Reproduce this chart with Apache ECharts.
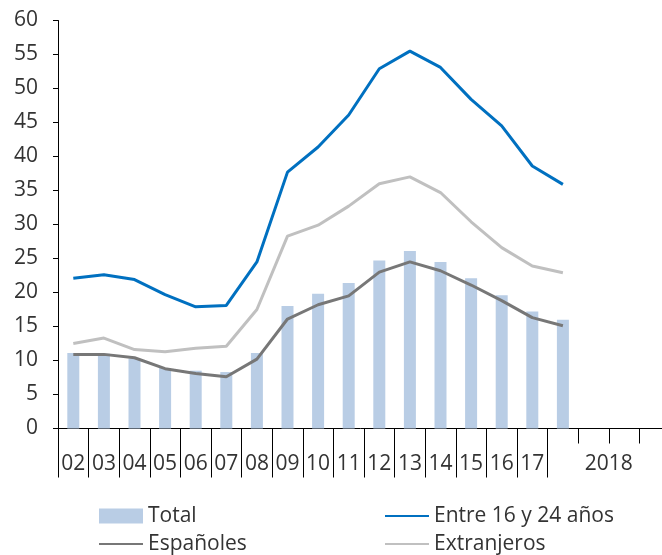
<!DOCTYPE html>
<html>
<head>
<meta charset="utf-8">
<script src="https://cdn.jsdelivr.net/npm/echarts@6/dist/echarts.min.js"></script>
<style>
html,body{margin:0;padding:0;background:#fff;}
#chart{width:662px;height:555px;}
</style>
</head>
<body>
<div id="chart"></div>
<script>
// ---- data ----
const categories = ['02','03','04','05','06','07','08','09','10','11','12','13','14','15','16','17','2018-I','2018-II','2018-III','2018-IV'];
const yearLabels = ['02','03','04','05','06','07','08','09','10','11','12','13','14','15','16','17'];
const groupLabels = ['2018'];
const total    = [11.1, 11.0, 10.3, 8.9, 8.5, 8.3, 11.1, 18.0, 19.8, 21.4, 24.7, 26.1, 24.5, 22.1, 19.6, 17.2, 16.0, null, null, null];
const young    = [22.1, 22.6, 21.9, 19.7, 17.9, 18.1, 24.5, 37.7, 41.4, 46.1, 52.9, 55.5, 53.1, 48.4, 44.5, 38.6, 35.9, null, null, null];
const spanish  = [10.9, 10.9, 10.4, 8.8, 8.1, 7.6, 10.2, 16.1, 18.2, 19.5, 23.0, 24.5, 23.2, 21.1, 18.8, 16.3, 15.1, null, null, null];
const foreign  = [12.5, 13.3, 11.6, 11.3, 11.8, 12.1, 17.5, 28.3, 29.9, 32.7, 36.0, 37.0, 34.7, 30.4, 26.6, 23.9, 22.9, null, null, null];
const yTicks = {min: 0, max: 60, interval: 5};

// ---- layout ----
const L = 58, TOP = 20.5, H = 408, BW = 30.6;
const FONT = 'Open Sans';
const TXT = '#333333';
const FS = 21;

const chart = echarts.init(document.getElementById('chart'), null, {renderer: 'canvas'});
const grid = (left, width) => ({left: left, top: TOP, width: width, height: H, containLabel: false, outerBoundsMode: 'none'});
const legendBase = {
  orient: 'vertical', top: 505.5, height: 120, itemWidth: 44, itemHeight: 15, itemGap: 7, padding: 0,
  textStyle: {color: TXT, fontFamily: FONT, fontSize: FS, lineHeight: 15}
};
const noSymbol = {opacity: 0};

chart.setOption({
  animation: false,
  backgroundColor: '#ffffff',
  grid: [
    grid(L, BW * categories.length),
    grid(L, BW * yearLabels.length),
    grid(L + BW * yearLabels.length, BW * (categories.length - yearLabels.length))
  ],
  xAxis: [
    {
      type: 'category', gridIndex: 0, data: categories, boundaryGap: true,
      axisLine: {show: true, lineStyle: {color: '#000', width: 1}},
      axisTick: {show: true, interval: 0, length: 15, lineStyle: {color: '#000', width: 1}},
      axisLabel: {show: false},
      splitLine: {show: false}
    },
    {
      type: 'category', gridIndex: 1, data: yearLabels, boundaryGap: true,
      axisLine: {show: false},
      axisTick: {show: true, interval: 0, length: 49, lineStyle: {color: '#000', width: 1}},
      axisLabel: {show: true, interval: 0, margin: 25, color: TXT, fontFamily: FONT, fontSize: FS},
      splitLine: {show: false}
    },
    {
      type: 'category', gridIndex: 2, data: groupLabels, boundaryGap: true,
      axisLine: {show: false},
      axisTick: {show: false},
      axisLabel: {show: true, interval: 0, margin: 25, color: TXT, fontFamily: FONT, fontSize: FS},
      splitLine: {show: false}
    }
  ],
  yAxis: [
    {
      type: 'value', gridIndex: 0, min: yTicks.min, max: yTicks.max, interval: yTicks.interval,
      axisLine: {show: true, lineStyle: {color: '#000', width: 1}},
      axisTick: {show: true, length: 5, lineStyle: {color: '#000', width: 1}},
      axisLabel: {margin: 20, color: TXT, fontFamily: FONT, fontSize: FS},
      splitLine: {show: false}
    },
    {type: 'value', gridIndex: 1, min: 0, max: 60, show: false},
    {type: 'value', gridIndex: 2, min: 0, max: 60, show: false}
  ],
  legend: [
    Object.assign({}, legendBase, {
      left: 98,
      data: [{name: 'Total', icon: 'rect'}, {name: 'Españoles', itemStyle: noSymbol}]
    }),
    Object.assign({}, legendBase, {
      left: 384,
      data: [{name: 'Entre 16 y 24 años', itemStyle: noSymbol}, {name: 'Extranjeros', itemStyle: noSymbol}]
    })
  ],
  series: [
    {
      name: 'Total', type: 'bar', xAxisIndex: 0, yAxisIndex: 0, data: total,
      barWidth: 12, itemStyle: {color: '#B9CDE5'}, z: 1
    },
    {
      name: 'Entre 16 y 24 años', type: 'line', xAxisIndex: 0, yAxisIndex: 0, data: young,
      symbol: 'none', showSymbol: false, lineStyle: {color: '#0070C0', width: 3}, itemStyle: {color: '#0070C0'}, z: 3
    },
    {
      name: 'Españoles', type: 'line', xAxisIndex: 0, yAxisIndex: 0, data: spanish,
      symbol: 'none', showSymbol: false, lineStyle: {color: '#777777', width: 3}, itemStyle: {color: '#777777'}, z: 3
    },
    {
      name: 'Extranjeros', type: 'line', xAxisIndex: 0, yAxisIndex: 0, data: foreign,
      symbol: 'none', showSymbol: false, lineStyle: {color: '#C0C0C0', width: 3}, itemStyle: {color: '#C0C0C0'}, z: 2
    }
  ]
});
</script>
</body>
</html>
